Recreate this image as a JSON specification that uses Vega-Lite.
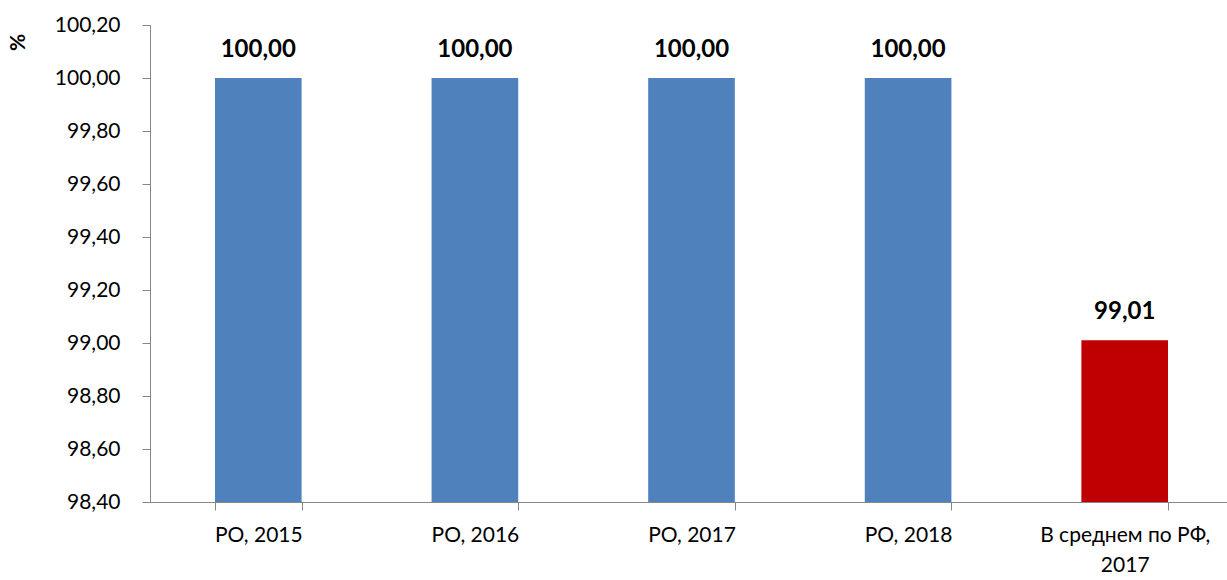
{
  "$schema": "https://vega.github.io/schema/vega-lite/v6.json",
  "width": 1083,
  "height": 477,
  "autosize": {"type": "none"},
  "padding": {"left": 150, "top": 25, "right": 0, "bottom": 78},
  "background": "white",
  "config": {
    "view": {"stroke": null},
    "font": "Lato",
    "locale": {"number": {"decimal": ",", "thousands": " ", "grouping": [3], "currency": ["", ""]}},
    "axis": {"grid": false, "domainColor": "#868686", "tickColor": "#868686", "labelColor": "#000000", "labelFont": "Lato", "titleFont": "Lato"}
  },
  "data": {
    "values": [
      {"cat": "РО, 2015", "value": 100.00, "group": "РО"},
      {"cat": "РО, 2016", "value": 100.00, "group": "РО"},
      {"cat": "РО, 2017", "value": 100.00, "group": "РО"},
      {"cat": "РО, 2018", "value": 100.00, "group": "РО"},
      {"cat": "В среднем по РФ, 2017", "value": 99.01, "group": "РФ"}
    ]
  },
  "encoding": {
    "x": {
      "field": "cat", "type": "nominal", "sort": null,
      "scale": {"paddingInner": 0.6, "paddingOuter": 0.3},
      "axis": {
        "title": null, "labelAngle": 0, "labelFontSize": 21, "tickSize": 8, "tickBand": "extent",
        "labelPadding": 14, "labelBaseline": "top", "labelLineHeight": 30,
        "labelExpr": "datum.label == 'В среднем по РФ, 2017' ? ['В среднем по РФ,', '2017'] : datum.label"
      }
    },
    "y": {
      "field": "value", "type": "quantitative",
      "scale": {"domain": [98.4, 100.2], "nice": false, "zero": false},
      "axis": {
        "values": [98.4, 98.6, 98.8, 99.0, 99.2, 99.4, 99.6, 99.8, 100.0, 100.2],
        "format": ".2f",
        "labelFontSize": 21, "tickSize": 8, "labelPadding": 22,
        "title": "%", "titleFontSize": 21, "titleFontWeight": "bold", "titleAngle": -90,
        "titleX": -132, "titleY": 17, "titleAlign": "center", "titleBaseline": "middle"
      }
    }
  },
  "layer": [
    {
      "mark": {"type": "bar"},
      "encoding": {
        "y2": {"datum": 98.4},
        "color": {"field": "group", "type": "nominal", "scale": {"domain": ["РО", "РФ"], "range": ["#4F81BD", "#C00000"]}, "legend": null}
      }
    },
    {
      "mark": {"type": "text", "fontWeight": "bold", "fontSize": 24, "baseline": "bottom", "dy": -16, "color": "#000000"},
      "encoding": {
        "text": {"field": "value", "type": "quantitative", "format": ".2f"}
      }
    }
  ]
}
